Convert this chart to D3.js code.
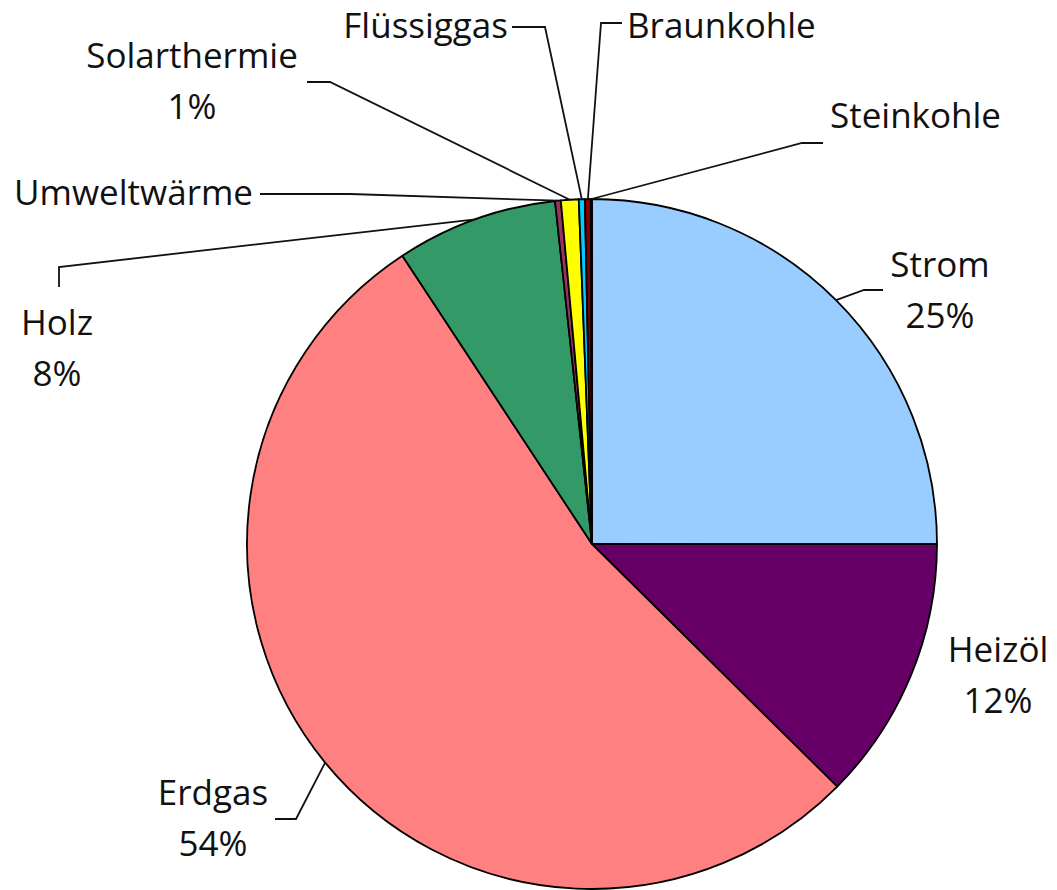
<!DOCTYPE html>
<html>
<head>
<meta charset="utf-8">
<script src="https://cdn.jsdelivr.net/npm/d3@7"></script>
<style>
  body { margin: 0; background: #fff; }
  text { font-family: "Open Sans", sans-serif; font-size: 35px; fill: #111; }
</style>
</head>
<body>
<div id="chart"></div>
<script>
(function () {

  // slices, clockwise from 12 o'clock
  const categories = ["Strom", "Heizöl", "Erdgas", "Holz", "Umweltwärme", "Solarthermie", "Flüssiggas", "Braunkohle", "Steinkohle"]
  const values = [25.0, 12.4, 53.3, 7.55, 0.27, 0.83, 0.28, 0.28, 0.05]
  const percentLabels = ["25%", "12%", "54%", "8%", null, "1%", null, null, null]
  const colors = ["#99ccff", "#660066", "#ff8080", "#339966", "#993366", "#ffff00", "#00ccff", "#800000", "#333333"]

  const width = 1057
  const height = 890
  const cx = 592
  const cy = 544
  const radius = 345

  // label placement: text centre / anchor, baseline, and leader elbows
  const labelLayout = {
    "Strom":        { x: 940, y: 277, anchor: "middle", leader: [[883, 290], [864, 290]] },
    "Heizöl":       { x: 998, y: 662, anchor: "middle", leader: null },
    "Erdgas":       { x: 213, y: 805, anchor: "middle", leader: [[275, 819], [296, 819]] },
    "Holz":         { x: 57,  y: 335, anchor: "middle", leader: [[59, 287], [59, 267]] },
    "Umweltwärme":  { x: 253, y: 205, anchor: "end",    leader: [[260, 194], [350, 194]] },
    "Solarthermie": { x: 192, y: 68,  anchor: "middle", leader: [[307, 82], [330, 82]] },
    "Flüssiggas":   { x: 508, y: 38,  anchor: "end",    leader: [[512, 27], [545, 27]] },
    "Braunkohle":   { x: 627, y: 38,  anchor: "start",  leader: [[622, 23], [601, 23]] },
    "Steinkohle":   { x: 830, y: 128, anchor: "start",  leader: [[823, 143], [802, 143]] }
  }

  const svg = d3.select("#chart").append("svg")
      .attr("width", width)
      .attr("height", height)

  const g = svg.append("g")
      .attr("transform", "translate(" + cx + "," + cy + ")")

  const pie = d3.pie()
    .sort(null)
    .value(d => d.value)

  const arc = d3.arc()
    .innerRadius(0)
    .outerRadius(radius)

  // point on the rim at the slice middle, for the leader lines
  const rimArc = d3.arc()
    .innerRadius(radius)
    .outerRadius(radius)

  const data = categories.map((c, i) => ({
    name: c,
    value: values[i],
    pct: percentLabels[i],
    color: colors[i]
  }))

  const arcs = pie(data)

  g.selectAll("path.slice")
    .data(arcs)
    .join("path")
    .attr("class", "slice")
    .attr("d", arc)
    .attr("fill", d => d.data.color)
    .attr("stroke", "#000")
    .attr("stroke-width", 1.8)
    .attr("stroke-linejoin", "round")

  // leader lines
  const line = d3.line()
  svg.selectAll("path.leader")
    .data(arcs.filter(d => labelLayout[d.data.name].leader))
    .join("path")
    .attr("class", "leader")
    .attr("fill", "none")
    .attr("stroke", "#111")
    .attr("stroke-width", 1.8)
    .attr("d", d => {
      const c = rimArc.centroid(d)
      const pts = labelLayout[d.data.name].leader.concat([[cx + c[0], cy + c[1]]])
      return line(pts)
    })

  // labels
  const labels = svg.selectAll("text.label")
    .data(arcs)
    .join("text")
    .attr("class", "label")
    .attr("text-anchor", d => labelLayout[d.data.name].anchor)
    .attr("x", d => labelLayout[d.data.name].x)
    .attr("y", d => labelLayout[d.data.name].y)

  labels.append("tspan")
    .text(d => d.data.name)

  labels.filter(d => d.data.pct)
    .append("tspan")
    .attr("x", d => labelLayout[d.data.name].x)
    .attr("dy", 51)
    .text(d => d.data.pct)

})();
</script>
</body>
</html>
